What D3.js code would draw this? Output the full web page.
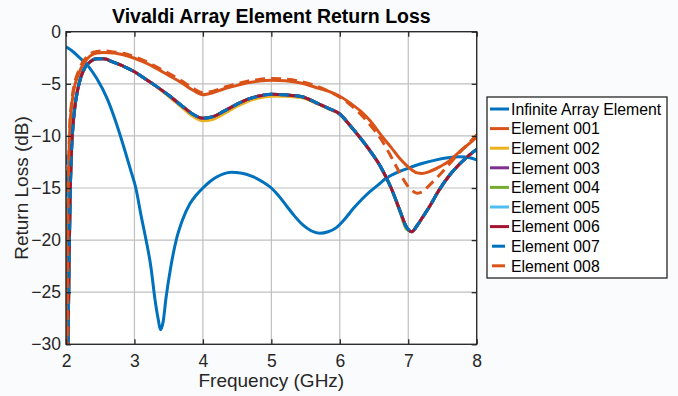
<!DOCTYPE html>
<html>
<head>
<meta charset="utf-8">
<script src="https://cdn.jsdelivr.net/npm/d3@7"></script>
<style>
  body { margin: 0; background: #fafbfd; }
  svg { display: block; font-family: "Liberation Sans", Arial, sans-serif; }
</style>
</head>
<body>
<svg id="chart"></svg>
<script>
// frequency samples (GHz)
const freqInfinite = [2.0, 2.1, 2.2, 2.33, 2.45, 2.6, 2.72, 2.86, 2.95, 3.02, 3.1, 3.17, 3.24, 3.3, 3.35, 3.38, 3.42, 3.46, 3.53, 3.61, 3.7, 3.81, 3.9, 4.0, 4.1, 4.2, 4.3, 4.42, 4.55, 4.73, 4.87, 5.0, 5.1, 5.22, 5.34, 5.46, 5.58, 5.71, 5.83, 5.95, 6.07, 6.2, 6.32, 6.44, 6.56, 6.68, 6.84, 7.0, 7.2, 7.41, 7.58, 7.75, 7.9, 8.0];
const lossInfinite = [-1.45, -1.9, -2.5, -3.35, -4.5, -6.4, -8.5, -11.4, -13.4, -15, -17.75, -20, -22.55, -25.7, -27.7, -28.6, -27.8, -25.6, -22.6, -20, -18.1, -16.5, -15.7, -15, -14.4, -13.95, -13.65, -13.5, -13.55, -13.9, -14.4, -15, -15.7, -16.7, -17.7, -18.55, -19.1, -19.35, -19.2, -18.8, -18.0, -16.95, -16.1, -15.35, -14.7, -14.05, -13.5, -13.1, -12.65, -12.3, -12.1, -12.0, -12.1, -12.3];

const freqElement = [2.0, 2.01, 2.03, 2.045, 2.06, 2.08, 2.1, 2.13, 2.17, 2.22, 2.28, 2.35, 2.45, 2.55, 2.7, 2.85, 3.0, 3.15, 3.3, 3.5, 3.7, 3.85, 4.0, 4.15, 4.3, 4.5, 4.65, 4.8, 5.0, 5.2, 5.45, 5.65, 5.85, 6.0, 6.15, 6.3, 6.45, 6.6, 6.75, 6.88, 6.97, 7.05, 7.13, 7.2, 7.3, 7.45, 7.6, 7.75, 7.9, 8.0];
const loss001 = [-16.5, -40, -18, -11.5, -8.8, -7.3, -6.2, -5.1, -4.3, -3.5, -2.85, -2.35, -2.05, -2.0, -2.05, -2.25, -2.55, -2.95, -3.45, -4.2, -4.95, -5.6, -6.05, -5.85, -5.5, -5.15, -4.9, -4.75, -4.65, -4.7, -4.95, -5.35, -5.75, -6.2, -6.85, -7.6, -8.6, -9.9, -11.1, -12.2, -12.8, -13.25, -13.55, -13.6, -13.45, -13.0, -12.4, -11.5, -10.7, -10.1];
const loss002 = [-13.3, -40, -30, -22, -16, -11.5, -9.2, -7.2, -5.6, -4.3, -3.4, -2.9, -2.6, -2.6, -2.95, -3.35, -3.85, -4.5, -5.2, -6.2, -7.3, -8.1, -8.55, -8.4, -7.9, -7.15, -6.7, -6.4, -6.2, -6.2, -6.35, -6.85, -7.45, -7.95, -9.0, -10.2, -11.5, -13.0, -15.0, -17.2, -18.7, -19.2, -18.6, -17.9, -16.9, -15.2, -13.8, -12.7, -11.8, -11.3];
const loss003 = [-14.0, -40, -30, -22, -16, -11.5, -9.2, -7.2, -5.6, -4.3, -3.4, -2.9, -2.6, -2.6, -2.95, -3.35, -3.85, -4.5, -5.15, -6.1, -7.15, -7.9, -8.3, -8.15, -7.65, -6.95, -6.5, -6.2, -6.0, -6.05, -6.25, -6.8, -7.4, -7.9, -9.0, -10.2, -11.5, -13.0, -15.0, -17.2, -18.7, -19.2, -18.6, -17.9, -16.9, -15.2, -13.8, -12.7, -11.8, -11.3];
const loss004 = [-14.5, -40, -30, -22, -16, -11.5, -9.2, -7.2, -5.6, -4.3, -3.4, -2.9, -2.6, -2.6, -2.95, -3.35, -3.85, -4.5, -5.15, -6.1, -7.15, -7.9, -8.3, -8.15, -7.65, -6.95, -6.5, -6.2, -6.0, -6.05, -6.25, -6.8, -7.4, -7.9, -9.0, -10.2, -11.5, -13.0, -15.0, -17.3, -18.9, -19.2, -18.6, -17.9, -16.9, -15.2, -13.8, -12.7, -11.8, -11.3];
const loss005 = [-15.3, -40, -30, -22, -16, -11.5, -9.2, -7.2, -5.6, -4.3, -3.4, -2.9, -2.6, -2.6, -2.95, -3.35, -3.85, -4.5, -5.15, -6.1, -7.15, -7.9, -8.3, -8.15, -7.65, -6.95, -6.5, -6.2, -6.0, -6.05, -6.25, -6.8, -7.4, -7.9, -9.0, -10.2, -11.5, -13.0, -15.0, -17.2, -18.7, -19.2, -18.6, -17.9, -16.9, -15.2, -13.8, -12.7, -11.8, -11.3];
const loss006 = [-18.9, -40, -30, -22, -16, -11.5, -9.2, -7.2, -5.6, -4.3, -3.4, -2.9, -2.6, -2.6, -2.95, -3.35, -3.85, -4.5, -5.15, -6.1, -7.15, -7.9, -8.3, -8.15, -7.65, -6.95, -6.5, -6.2, -6.0, -6.05, -6.25, -6.8, -7.4, -7.9, -9.0, -10.2, -11.5, -13.0, -15.0, -17.2, -18.7, -19.2, -18.6, -17.9, -16.9, -15.2, -13.8, -12.7, -11.8, -11.3];
const loss007 = [-11.8, -40, -30, -22, -16, -11.5, -9.2, -7.2, -5.6, -4.3, -3.4, -2.9, -2.6, -2.6, -2.95, -3.35, -3.85, -4.5, -5.15, -6.1, -7.15, -7.9, -8.3, -8.15, -7.65, -6.95, -6.5, -6.2, -6.0, -6.05, -6.25, -6.8, -7.4, -7.9, -9.0, -10.2, -11.5, -13.0, -15.0, -17.2, -18.7, -19.2, -18.6, -17.9, -16.9, -15.2, -13.8, -12.7, -11.8, -11.3];
const loss008 = [-17, -40, -17, -11, -8.4, -6.9, -5.8, -4.8, -4.0, -3.2, -2.6, -2.15, -1.9, -1.85, -1.95, -2.1, -2.4, -2.8, -3.3, -4.0, -4.75, -5.4, -5.85, -5.7, -5.35, -5.0, -4.75, -4.6, -4.5, -4.55, -4.8, -5.2, -5.75, -6.3, -7.0, -7.9, -9.0, -10.3, -12.0, -13.6, -14.6, -15.2, -15.5, -15.4, -14.8, -13.8, -12.7, -11.6, -10.6, -9.9];

const seriesNames = ["Infinite Array Element", "Element 001", "Element 002", "Element 003", "Element 004", "Element 005", "Element 006", "Element 007", "Element 008"];
const xTicks = [2, 3, 4, 5, 6, 7, 8];
const yTicks = [-30, -25, -20, -15, -10, -5, 0];

const series = [
  { name: seriesNames[0], freq: freqInfinite, loss: lossInfinite },
  { name: seriesNames[1], freq: freqElement, loss: loss001 },
  { name: seriesNames[2], freq: freqElement, loss: loss002 },
  { name: seriesNames[3], freq: freqElement, loss: loss003 },
  { name: seriesNames[4], freq: freqElement, loss: loss004 },
  { name: seriesNames[5], freq: freqElement, loss: loss005 },
  { name: seriesNames[6], freq: freqElement, loss: loss006 },
  { name: seriesNames[7], freq: freqElement, loss: loss007 },
  { name: seriesNames[8], freq: freqElement, loss: loss008 }
];
const colors = ["#0072bd", "#d95319", "#edb120", "#7e2f8e", "#77ac30", "#4dbeee", "#a2142f", "#0072bd", "#d95319"];
const dashed = [false, false, false, false, false, false, false, true, true];

const width = 678, height = 396;
const margin = { left: 66, top: 31.7, right: 201.3, bottom: 51.7 };
const plotW = width - margin.left - margin.right;
const plotH = height - margin.top - margin.bottom;

const svg = d3.select("#chart").attr("width", width).attr("height", height);

const x = d3.scaleLinear().domain([2, 8]).range([0, plotW]);
const y = d3.scaleLinear().domain([-30, 0]).range([plotH, 0]);

const g = svg.append("g").attr("transform", "translate(" + margin.left + "," + margin.top + ")");

g.append("rect").attr("width", plotW).attr("height", plotH).attr("fill", "#ffffff");

// grid
g.selectAll(".vgrid").data(xTicks).enter().append("line")
  .attr("x1", d => x(d)).attr("x2", d => x(d))
  .attr("y1", 0).attr("y2", plotH)
  .attr("stroke", "#bfbfbf").attr("stroke-width", 1.2);
g.selectAll(".hgrid").data(yTicks).enter().append("line")
  .attr("x1", 0).attr("x2", plotW)
  .attr("y1", d => y(d)).attr("y2", d => y(d))
  .attr("stroke", "#bfbfbf").attr("stroke-width", 1.2);

// curves
svg.append("clipPath").attr("id", "clip")
  .append("rect").attr("width", plotW).attr("height", plotH);

const line = d3.line()
  .x(d => x(d[0]))
  .y(d => y(d[1]))
  .curve(d3.curveMonotoneX);

g.append("g").attr("clip-path", "url(#clip)")
  .selectAll("path").data(series).enter().append("path")
  .attr("d", s => line(s.freq.map((f, i) => [f, s.loss[i]])))
  .attr("fill", "none")
  .attr("stroke", (s, i) => colors[i])
  .attr("stroke-width", 3)
  .attr("stroke-linejoin", "round")
  .attr("stroke-dasharray", (s, i) => dashed[i] ? "10,6" : null);

// axes, MATLAB style with inward ticks
const axisStyle = sel => {
  sel.select(".domain").remove();
  sel.selectAll(".tick line").attr("stroke", "#262626").attr("stroke-width", 1.3);
  sel.selectAll("text").attr("fill", "#262626").style("font-size", "17.5px");
};
g.append("g").attr("transform", "translate(0," + plotH + ")")
  .call(d3.axisBottom(x).tickValues(xTicks).tickFormat(d3.format("d")).tickSizeInner(-5).tickSizeOuter(0).tickPadding(10))
  .call(axisStyle);
g.append("g")
  .call(d3.axisTop(x).tickValues(xTicks).tickSizeInner(-5).tickSizeOuter(0).tickFormat(""))
  .call(axisStyle);
g.append("g")
  .call(d3.axisLeft(y).tickValues(yTicks).tickFormat(d3.format("d")).tickSizeInner(-5).tickSizeOuter(0).tickPadding(5))
  .call(axisStyle);
g.append("g").attr("transform", "translate(" + plotW + ",0)")
  .call(d3.axisRight(y).tickValues(yTicks).tickSizeInner(-5).tickSizeOuter(0).tickFormat(""))
  .call(axisStyle);

g.append("rect").attr("width", plotW).attr("height", plotH)
  .attr("fill", "none").attr("stroke", "#262626").attr("stroke-width", 1.3);

// title and labels
svg.append("text")
  .attr("x", margin.left + plotW / 2).attr("y", 23)
  .attr("text-anchor", "middle")
  .style("font-size", "19.5px").style("font-weight", "bold")
  .attr("fill", "#000")
  .text("Vivaldi Array Element Return Loss");

svg.append("text")
  .attr("x", margin.left + plotW / 2).attr("y", 387)
  .attr("text-anchor", "middle")
  .style("font-size", "19px").attr("fill", "#262626")
  .text("Frequency (GHz)");

svg.append("text")
  .attr("transform", "translate(28," + (margin.top + plotH / 2) + ") rotate(-90)")
  .attr("text-anchor", "middle")
  .style("font-size", "19px").attr("fill", "#262626")
  .text("Return Loss (dB)");

// legend
const legend = svg.append("g").attr("transform", "translate(487,97)");
legend.append("rect").attr("width", 180).attr("height", 181)
  .attr("fill", "#ffffff").attr("stroke", "#262626").attr("stroke-width", 1.3);

const rows = legend.selectAll(".row").data(series).enter().append("g")
  .attr("transform", (d, i) => "translate(0," + (12 + i * 19.6) + ")");
rows.append("line")
  .attr("x1", (d, i) => dashed[i] ? 5 : 3)
  .attr("x2", (d, i) => dashed[i] ? 18 : 22)
  .attr("stroke", (d, i) => colors[i])
  .attr("stroke-width", 3);
rows.append("text")
  .attr("x", 24).attr("dy", "0.36em")
  .style("font-size", "15.8px").attr("fill", "#000")
  .text(d => d.name);
</script>
</body>
</html>
